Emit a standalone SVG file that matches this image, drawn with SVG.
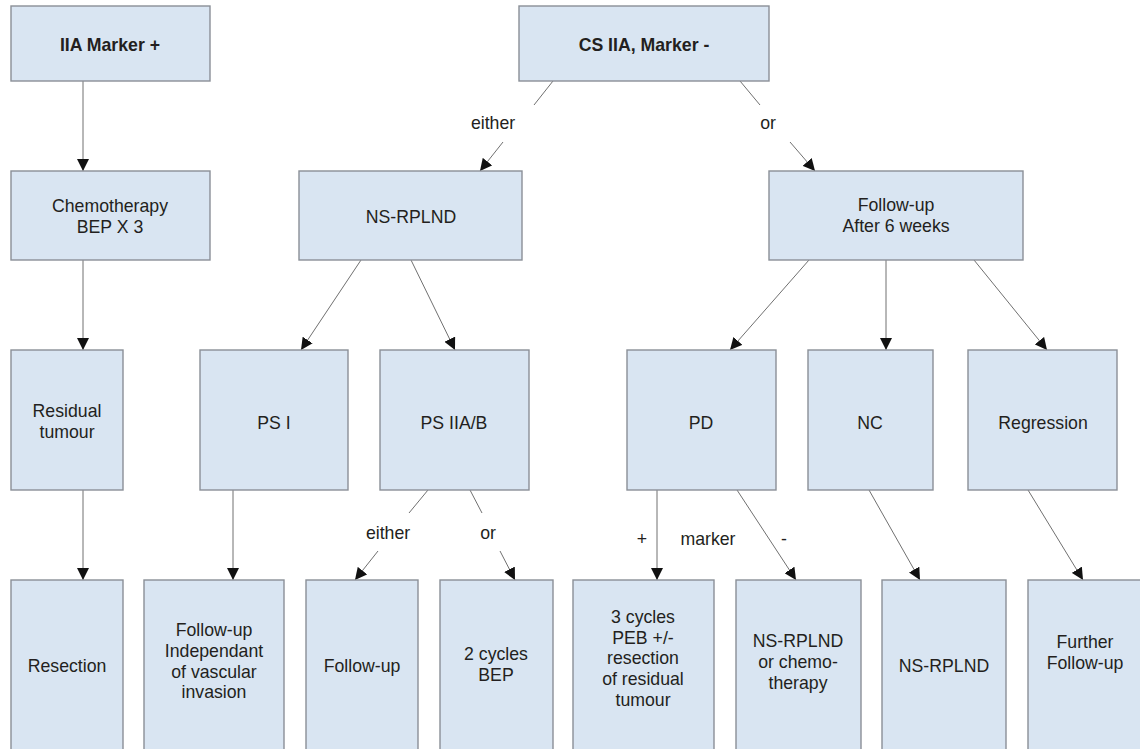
<svg xmlns="http://www.w3.org/2000/svg" width="1140" height="749" viewBox="0 0 1140 749">
<style>
.box{fill:#d9e5f2;stroke:#8a8f97;stroke-width:1.4}
.t{font-family:"Liberation Sans",Arial,Helvetica,sans-serif;font-size:17.7px;fill:#231f20;text-anchor:middle}
.b{font-weight:bold}
.c{stroke:#707070;stroke-width:1;fill:none}
.a{marker-end:url(#arr)}
</style>
<defs>
<marker id="arr" markerUnits="userSpaceOnUse" markerWidth="12" markerHeight="12" refX="10" refY="5" orient="auto" viewBox="0 0 10 10">
<path d="M0,0 L10,5 L0,10 z" fill="#111"/>
</marker>
</defs>
<rect width="1140" height="749" fill="#fff"/>

<g id="connectors">
<line class="c a" x1="83" y1="81" x2="83" y2="171"/>
<line class="c a" x1="83" y1="260" x2="83" y2="350"/>
<line class="c a" x1="83" y1="490" x2="83" y2="580"/>
<line class="c a" x1="233" y1="490" x2="233" y2="580"/>
<line class="c" x1="553" y1="81" x2="534" y2="105"/>
<line class="c a" x1="503" y1="142" x2="480" y2="171"/>
<line class="c" x1="740" y1="81" x2="760" y2="105"/>
<line class="c a" x1="790" y1="142" x2="815" y2="171"/>
<line class="c a" x1="361" y1="260" x2="301" y2="350"/>
<line class="c a" x1="411" y1="260" x2="455" y2="350"/>
<line class="c" x1="428" y1="490" x2="409" y2="513"/>
<line class="c a" x1="378" y1="551" x2="355" y2="580"/>
<line class="c" x1="470" y1="490" x2="482" y2="513"/>
<line class="c a" x1="500" y1="551" x2="515" y2="580"/>
<line class="c a" x1="809" y1="260" x2="730" y2="350"/>
<line class="c a" x1="886" y1="260" x2="886" y2="350"/>
<line class="c a" x1="974" y1="260" x2="1047" y2="350"/>
<line class="c a" x1="657" y1="490" x2="657" y2="580"/>
<line class="c a" x1="737" y1="490" x2="796" y2="580"/>
<line class="c a" x1="869" y1="490" x2="920" y2="580"/>
<line class="c a" x1="1028" y1="490" x2="1083" y2="580"/>
<text class="t" x="493" y="129">either</text>
<text class="t" x="768" y="129">or</text>
<text class="t" x="388" y="539">either</text>
<text class="t" x="488" y="539">or</text>
<text class="t" x="642" y="545">+</text>
<text class="t" x="708" y="545">marker</text>
<text class="t" x="784" y="545">-</text>
</g>

<g id="n-iia-marker-plus"><rect class="box" x="11" y="6" width="199" height="75"/><text class="t b" x="110" y="51">IIA Marker +</text></g>
<g id="n-chemo"><rect class="box" x="11" y="171" width="199" height="89"/><text class="t" x="110" y="212">Chemotherapy</text><text class="t" x="110" y="233">BEP X 3</text></g>
<g id="n-residual"><rect class="box" x="11" y="350" width="112" height="140"/><text class="t" x="67" y="417">Residual</text><text class="t" x="67" y="438">tumour</text></g>
<g id="n-resection"><rect class="box" x="11" y="580" width="112" height="175"/><text class="t" x="67" y="672">Resection</text></g>

<g id="n-cs-iia"><rect class="box" x="519" y="6" width="250" height="75"/><text class="t b" x="644" y="51">CS IIA, Marker -</text></g>
<g id="n-nsrplnd"><rect class="box" x="299" y="171" width="223" height="89"/><text class="t" x="411" y="223">NS-RPLND</text></g>
<g id="n-followup6"><rect class="box" x="769" y="171" width="254" height="89"/><text class="t" x="896" y="211">Follow-up</text><text class="t" x="896" y="232">After 6 weeks</text></g>

<g id="n-ps1"><rect class="box" x="200" y="350" width="148" height="140"/><text class="t" x="274" y="429">PS I</text></g>
<g id="n-ps2"><rect class="box" x="380" y="350" width="149" height="140"/><text class="t" x="454" y="429">PS IIA/B</text></g>
<g id="n-pd"><rect class="box" x="627" y="350" width="149" height="140"/><text class="t" x="701" y="429">PD</text></g>
<g id="n-nc"><rect class="box" x="808" y="350" width="125" height="140"/><text class="t" x="870" y="429">NC</text></g>
<g id="n-regression"><rect class="box" x="968" y="350" width="149" height="140"/><text class="t" x="1043" y="429">Regression</text></g>

<g id="n-followup-indep"><rect class="box" x="144" y="580" width="140" height="175"/><text class="t" x="214" y="636">Follow-up</text><text class="t" x="214" y="657">Independant</text><text class="t" x="214" y="678">of vascular</text><text class="t" x="214" y="698">invasion</text></g>
<g id="n-followup"><rect class="box" x="306" y="580" width="112" height="175"/><text class="t" x="362" y="672">Follow-up</text></g>
<g id="n-2cycles"><rect class="box" x="440" y="580" width="113" height="175"/><text class="t" x="496" y="660">2 cycles</text><text class="t" x="496" y="681">BEP</text></g>
<g id="n-3cycles"><rect class="box" x="573" y="580" width="141" height="175"/><text class="t" x="643" y="623">3 cycles</text><text class="t" x="643" y="644">PEB +/-</text><text class="t" x="643" y="664">resection</text><text class="t" x="643" y="685">of residual</text><text class="t" x="643" y="706">tumour</text></g>
<g id="n-nsrplnd-chemo"><rect class="box" x="736" y="580" width="125" height="175"/><text class="t" x="798" y="647">NS-RPLND</text><text class="t" x="798" y="668">or chemo-</text><text class="t" x="798" y="689">therapy</text></g>
<g id="n-nsrplnd2"><rect class="box" x="882" y="580" width="124" height="175"/><text class="t" x="944" y="672">NS-RPLND</text></g>
<g id="n-further"><rect class="box" x="1028" y="580" width="114" height="175"/><text class="t" x="1085" y="648">Further</text><text class="t" x="1085" y="669">Follow-up</text></g>
</svg>
